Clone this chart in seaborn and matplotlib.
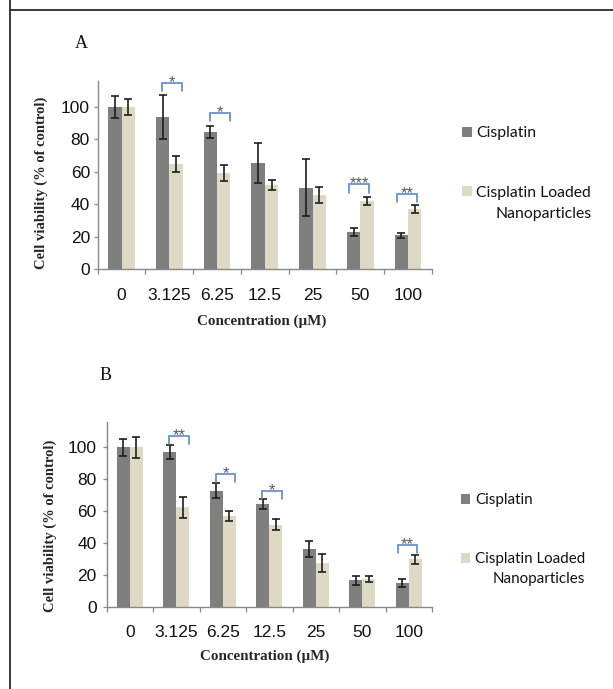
import numpy as np
import pandas as pd
import matplotlib
matplotlib.use("Agg")
import matplotlib.pyplot as plt
from matplotlib.lines import Line2D
import seaborn as sns

# ---------------- data ----------------
concentrations = ["0", "3.125", "6.25", "12.5", "25", "50", "100"]
groups = ["Cisplatin", "Cisplatin Loaded Nanoparticles"]

cis_A = [100, 93.6, 84.4, 65.3, 50.2, 22.6, 20.7]
cis_A_err = [7.0, 13.6, 3.8, 12.5, 17.8, 2.4, 1.3]
cln_A = [100, 64.7, 59.3, 51.7, 45.6, 42.1, 37.0]
cln_A_err = [5.0, 4.8, 4.7, 3.2, 5.1, 2.6, 2.5]

cis_B = [100, 96.9, 72.8, 64.4, 36.0, 16.5, 15.1]
cis_B_err = [5.2, 4.6, 4.9, 3.2, 5.1, 2.7, 2.5]
cln_B = [100, 62.3, 56.7, 51.5, 27.4, 17.4, 29.7]
cln_B_err = [6.6, 6.6, 3.0, 3.2, 5.5, 2.1, 2.9]

# significance brackets: category index, bracket top value, stars
sig_A_cat = [1, 2, 5, 6]
sig_A_top = [114.8, 96.3, 52.2, 46.2]
sig_A_txt = ["*", "*", "***", "**"]
sig_B_cat = [1, 2, 3, 6]
sig_B_top = [107.3, 83.1, 72.8, 38.9]
sig_B_txt = ["**", "*", "*", "**"]

y_ticks = [0, 20, 40, 60, 80, 100]

# ---------------- style ----------------
sns.set_style("white")
SANS = ["Liberation Sans", "DejaVu Sans"]
SERIF = ["Liberation Serif", "DejaVu Serif"]
LEG = ["Lato", "DejaVu Sans"]
plt.rcParams["font.family"] = SANS

C_CIS = "#7f7f7f"
C_CLN = "#ddd9c4"
AXC = "#888888"

W, H = 613, 689
fig = plt.figure(figsize=(W / 100, H / 100), dpi=100)
fig.patch.set_facecolor("white")


def make_df(cis, cln):
    return pd.DataFrame({
        "conc": concentrations * 2,
        "group": [groups[0]] * len(concentrations) + [groups[1]] * len(concentrations),
        "value": list(cis) + list(cln),
    })


def panel(rect, cis, cis_err, cln, cln_err, sig_cat, sig_top, sig_txt,
          tickfs, ylab_xy, xlab_xy, ytick_pad):
    ax = fig.add_axes(rect)
    df = make_df(cis, cln)
    sns.barplot(data=df, x="conc", y="value", hue="group", order=concentrations,
                hue_order=groups, palette={groups[0]: C_CIS, groups[1]: C_CLN},
                saturation=1, width=0.56, errorbar=None, legend=False, ax=ax,
                linewidth=0)
    for cont, vals, errs in zip(ax.containers, [cis, cln], [cis_err, cln_err]):
        xs = [p.get_x() + p.get_width() / 2 for p in cont.patches]
        ax.errorbar(xs, vals, yerr=errs, fmt="none", ecolor="#1e1e1e",
                    elinewidth=1.2, capsize=3.0, capthick=1.2, zorder=5)
    ax.set_xlim(-0.5, len(concentrations) - 0.5)
    ax.set_ylim(0, 116)
    ax.set_yticks(y_ticks)
    ax.set_xticks(np.arange(-0.5, len(concentrations), 1), minor=True)
    ax.tick_params(axis="x", which="major", length=0, pad=13.5,
                   labelsize=tickfs, colors="#111111")
    ax.tick_params(axis="x", which="minor", length=3.6, width=0.9,
                   color=AXC, direction="out", bottom=True)
    ax.tick_params(axis="y", which="major", length=3, width=0.9, color=AXC,
                   direction="out", left=True, pad=ytick_pad, labelsize=tickfs,
                   labelcolor="#111111")
    for s in ["top", "right"]:
        ax.spines[s].set_visible(False)
    for s in ["left", "bottom"]:
        ax.spines[s].set_color(AXC)
        ax.spines[s].set_linewidth(1.0)
    ax.set_ylabel("Cell viability (% of control)", fontsize=10.5,
                  fontweight="bold", family=SERIF)
    ax.yaxis.set_label_coords(*ylab_xy)
    ax.yaxis.label.set_va("center")
    ax.set_xlabel("Concentration (µM)", fontsize=10.8, fontweight="bold",
                  family=SERIF)
    ax.xaxis.set_label_coords(*xlab_xy)
    ax.xaxis.label.set_va("center")
    # significance brackets
    for c, top, txt in zip(sig_cat, sig_top, sig_txt):
        left = c - 0.15 if c < 4 else c - 0.23
        right = left + 0.415
        drop = top - 5
        ax.plot([left, left, right, right], [drop, top, top, drop],
                color="#5a8acb", lw=1.2, clip_on=False, zorder=6,
                solid_joinstyle="miter")
        ax.annotate(txt, xy=((left + right) / 2, top + 3.5), xytext=(0, -7.0),
                    textcoords="offset points", ha="center", va="baseline",
                    fontsize=12, color="#5e5a55", annotation_clip=False)
    return ax


axA = panel([97.7 / W, 1 - 269 / H, (432 - 97.7) / W, 188 / H],
            cis_A, cis_A_err, cln_A, cln_A_err, sig_A_cat, sig_A_top, sig_A_txt,
            12.5, (-0.170, 0.459), (0.49, -0.28), 2.6)
axB = panel([106.7 / W, 1 - 606.7 / H, (432 - 106.7) / W, 185 / H],
            cis_B, cis_B_err, cln_B, cln_B_err, sig_B_cat, sig_B_top, sig_B_txt,
            12.5, (-0.172, 0.438), (0.487, -0.27), 4.2)

# panel letters
fig.text(81.5 / W, 1 - 43 / H, "A", family=SERIF, fontsize=13, ha="center",
         va="center", color="#111111")
fig.text(105.3 / W, 1 - 375.5 / H, "B", family=SERIF, fontsize=13, ha="center",
         va="center", color="#111111")

# legends
legends = []
for ax, x0, ytop, fs, spacing in [(axA, 462, 126.2, 11.3, 2.9), (axB, 461, 493.3, 10.9, 2.95)]:
    handles = [ax.containers[0].patches[0], ax.containers[1].patches[0]]
    leg = ax.legend(handles, ["Cisplatin", "Cisplatin Loaded"], loc="upper left",
                    bbox_to_anchor=(x0 / W, 1 - ytop / H),
                    bbox_transform=fig.transFigure, frameon=False, borderpad=0,
                    borderaxespad=0, handlelength=0.62, handleheight=0.62,
                    handletextpad=0.3, labelspacing=spacing,
                    prop={"family": LEG, "size": fs})
    for t in leg.get_texts():
        t.set_color("#111111")
    legends.append((leg, fs))

fig.canvas.draw()
for (leg, fs), dy in zip(legends, [21.7, 20.0]):
    bb = leg.get_texts()[1].get_window_extent()
    fig.text(bb.x1 / W, ((bb.y0 + bb.y1) / 2 - dy) / H, "Nanoparticles",
             ha="right", va="center", family=LEG, fontsize=fs, color="#111111")

# page border lines
fig.add_artist(Line2D([9.5 / W, 9.5 / W], [0, 1], color="#2a2a2a", lw=1.3))
fig.add_artist(Line2D([9.5 / W, 1], [1 - 9.5 / H, 1 - 9.5 / H], color="#2a2a2a", lw=1.3))

fig.savefig("out.png", dpi=100)
